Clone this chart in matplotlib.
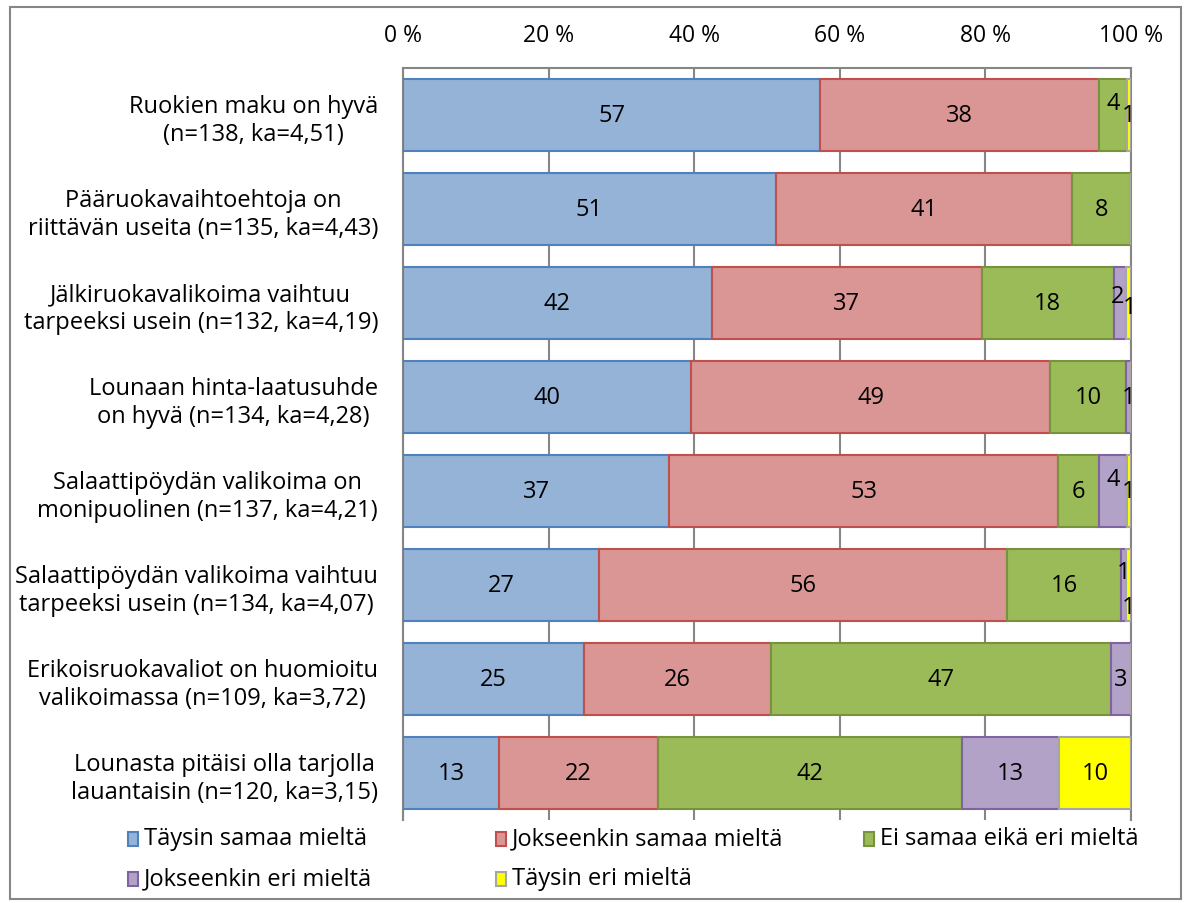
import matplotlib
matplotlib.use("Agg")
import matplotlib.pyplot as plt
import numpy as np
from matplotlib.patches import Rectangle

categories = [
    "Ruokien maku on hyvä\n(n=138, ka=4,51)",
    "Pääruokavaihtoehtoja on\nriittävän useita (n=135, ka=4,43)",
    "Jälkiruokavalikoima vaihtuu\ntarpeeksi usein (n=132, ka=4,19)",
    "Lounaan hinta-laatusuhde\non hyvä (n=134, ka=4,28)",
    "Salaattipöydän valikoima on\nmonipuolinen (n=137, ka=4,21)",
    "Salaattipöydän valikoima vaihtuu\ntarpeeksi usein (n=134, ka=4,07)",
    "Erikoisruokavaliot on huomioitu\nvalikoimassa (n=109, ka=3,72)",
    "Lounasta pitäisi olla tarjolla\nlauantaisin (n=120, ka=3,15)",
]
series_names = ["Täysin samaa mieltä", "Jokseenkin samaa mieltä", "Ei samaa eikä eri mieltä",
                "Jokseenkin eri mieltä", "Täysin eri mieltä"]
# percentages (labels show them rounded)
taysin_samaa = [57.3, 51.2, 42.4, 39.6, 36.6, 26.9, 24.9, 13.2]
jokseenkin_samaa = [38.3, 40.7, 37.1, 49.3, 53.4, 56.1, 25.6, 21.8]
ei_samaa_eika_eri = [3.85, 8.1, 18.1, 10.4, 5.6, 15.6, 46.8, 41.8]
jokseenkin_eri = [0.0, 0.0, 1.7, 0.7, 3.85, 0.7, 2.7, 13.3]
taysin_eri = [0.55, 0.0, 0.7, 0.0, 0.55, 0.7, 0.0, 9.9]
xticklabels = ["0 %", "20 %", "40 %", "60 %", "80 %", "100 %"]

fills = ["#95B3D7", "#DA9694", "#9BBB59", "#B3A2C7", "#FFFF00"]
edges = ["#4F81BD", "#C0504D", "#77933C", "#8064A2", "#A6A6A6"]

# label offsets in pixels (series index, row index) -> (dx, dy) (positive dy = down)
label_off = {(2, 0): (0, -12), (3, 2): (-2, -7), (4, 2): (1, 4), (3, 4): (0, -12),
             (3, 5): (0, -13), (4, 5): (0, 22)}

FONT = ["Open Sans", "DejaVu Sans"]
plt.rcParams['font.family'] = FONT

W, H = 1186, 904
fig = plt.figure(figsize=(W / 100, H / 100), dpi=100)
ax = fig.add_axes([403 / W, 1 - 821 / H, (1131 - 403) / W, (821 - 69) / H])

data = np.array([taysin_samaa, jokseenkin_samaa, ei_samaa_eika_eri, jokseenkin_eri, taysin_eri], dtype=float)
totals = data.sum(axis=0)
pct = data / totals * 100
y = np.arange(len(categories))
left = np.zeros(len(categories))
for i in range(len(series_names)):
    ax.barh(y, pct[i], left=left, height=0.77, color=fills[i], edgecolor=edges[i],
            linewidth=1.5, zorder=3, label=series_names[i])
    for j in range(len(categories)):
        if data[i, j] > 0:
            dx, dy = label_off.get((i, j), (0, 0))
            cx = left[j] + pct[i, j] / 2 + dx * 100 / 728
            ax.text(cx, y[j] + dy / 94.0, f"{data[i, j]:.0f}", ha="center", va="center",
                    fontsize=17, color="black", zorder=5, clip_on=False)
    left += pct[i]

ax.set_xlim(0, 100)
ax.set_ylim(len(categories) - 0.5, -0.5)
ax.set_xticks([0, 20, 40, 60, 80, 100])
ax.set_xticklabels(xticklabels, fontsize=16.5)
ax.xaxis.tick_top()
ax.tick_params(axis="x", length=0, pad=15)
ax.set_yticks(y)
ax.set_yticklabels(categories, fontsize=17, multialignment="center", linespacing=1.2)
ax.tick_params(axis="y", length=0, pad=18)
ax.grid(axis="x", color="#868686", linewidth=1.5, zorder=0)
ax.set_axisbelow(True)
ax.spines["bottom"].set_visible(False)
for s in ["top", "left", "right"]:
    ax.spines[s].set_color("#868686")
    ax.spines[s].set_linewidth(1.5)

# legend (manual layout with equal column widths, like the original)
leg_x0, leg_dx = 128, 368
leg_y = [840, 880]
for i, name in enumerate(series_names):
    r, c = divmod(i, 3)
    x = leg_x0 + c * leg_dx
    yy = leg_y[r]
    fig.patches.append(Rectangle(((x) / W, 1 - (yy + 7) / H), 10 / W, 14 / H,
                                 transform=fig.transFigure, facecolor=fills[i],
                                 edgecolor=edges[i], linewidth=1.5))
    fig.text((x + 16) / W, 1 - (yy - 1) / H, name, fontsize=17, va="center", ha="left")

# outer frame
fig.patches.append(Rectangle((10 / W, 1 - 900 / H), (1181 - 10) / W, (900 - 8) / H,
                             transform=fig.transFigure, facecolor="none",
                             edgecolor="#868686", linewidth=1.5))

fig.savefig("out.png", dpi=100)
